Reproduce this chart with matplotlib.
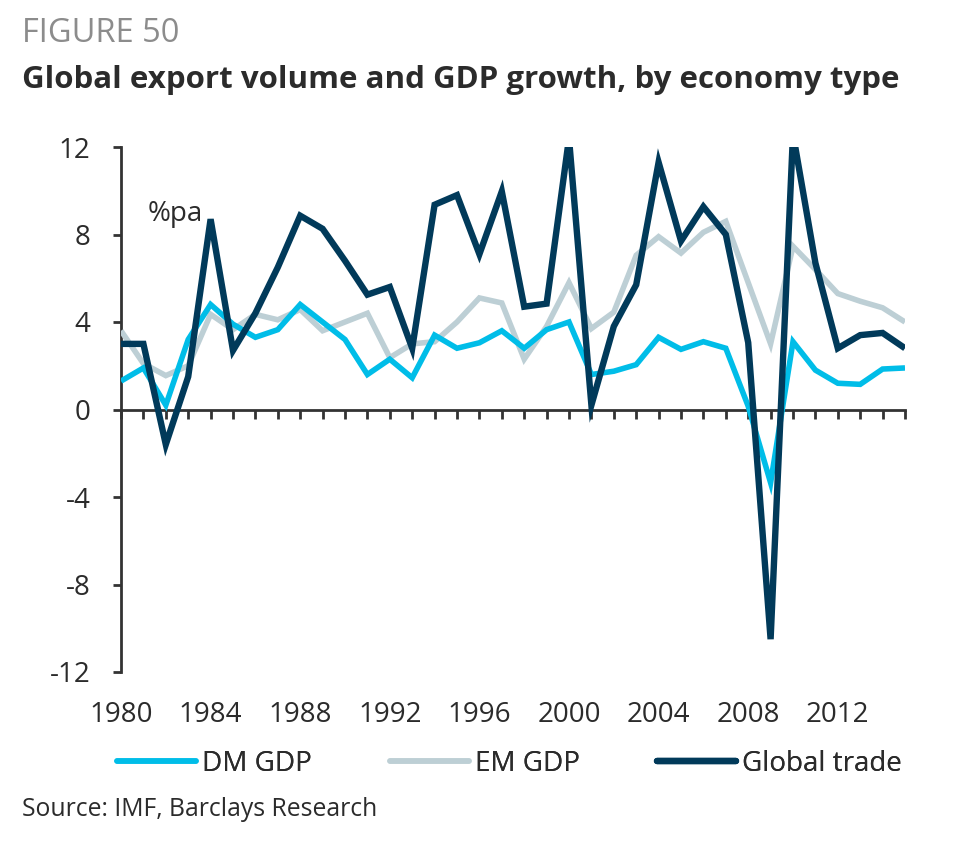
import matplotlib
matplotlib.use("Agg")
import matplotlib.pyplot as plt

plt.rcParams['font.family'] = ['Open Sans', 'DejaVu Sans']

years = list(range(1980, 2016))
dm_gdp = [1.3, 1.9, 0.2, 3.2, 4.8, 3.9, 3.3, 3.65, 4.8, 4.0, 3.2, 1.6,
          2.3, 1.45, 3.4, 2.8, 3.05, 3.6, 2.8, 3.65, 4.0, 1.6, 1.75, 2.05,
          3.3, 2.75, 3.1, 2.8, 0.15, -3.35, 3.1, 1.8, 1.2, 1.15, 1.85, 1.9]
em_gdp = [3.6, 2.1, 1.55, 2.0, 4.35, 3.65, 4.35, 4.1, 4.57, 3.6, 4.0, 4.4,
          2.37, 3.0, 3.1, 4.0, 5.1, 4.87, 2.3, 3.8, 5.8, 3.7, 4.45, 7.05,
          7.9, 7.15, 8.1, 8.6, 5.8, 3.0, 7.46, 6.4, 5.3, 4.95, 4.65, 4.0]
global_trade = [3.0, 3.0, -1.6, 1.5, 8.7, 2.7, 4.4, 6.5, 8.86, 8.26, 6.8, 5.25,
                5.6, 2.8, 9.36, 9.8, 7.1, 9.97, 4.7, 4.84, 12.4, 0.2, 3.8, 5.7,
                11.3, 7.7, 9.27, 8.0, 3.06, -10.5, 12.6, 6.7, 2.8, 3.4, 3.5, 2.8]

y_ticks = [-12, -8, -4, 0, 4, 8, 12]
x_label_ticks = list(range(1980, 2013, 4))

c_dm = '#00BDE8'
c_em = '#BDCFD5'
c_gt = '#013A5A'
c_ax = '#333333'
c_txt = '#2B2B2B'

fig = plt.figure(figsize=(9.6, 8.44), dpi=100)
ax = fig.add_axes([121/960, 1-672/844, (905-121)/960, (672-147)/844])

l_em, = ax.plot(years, em_gdp, color=c_em, lw=4.0, solid_capstyle='butt', solid_joinstyle='miter', zorder=2, label='EM GDP')
l_dm, = ax.plot(years, dm_gdp, color=c_dm, lw=4.0, solid_capstyle='butt', solid_joinstyle='miter', zorder=3, label='DM GDP')
l_gt, = ax.plot(years, global_trade, color=c_gt, lw=4.6, solid_capstyle='butt', solid_joinstyle='miter', zorder=4, label='Global trade')

ax.set_xlim(1980, 2015)
ax.set_ylim(-12, 12)
ax.spines['top'].set_visible(False)
ax.spines['right'].set_visible(False)
ax.spines['bottom'].set_position(('data', 0))
for s in ['left', 'bottom']:
    ax.spines[s].set_color(c_ax)
    ax.spines[s].set_linewidth(2.0)
    ax.spines[s].set_zorder(1)

ax.set_xticks(years)
ax.set_xticklabels([])
ax.tick_params(axis='x', direction='out', length=6.5, width=2.0, color=c_ax)
ax.set_yticks(y_ticks)
ax.set_yticklabels([str(v) for v in y_ticks])
ax.tick_params(axis='y', direction='out', length=6, width=2.0, color=c_ax,
               labelsize=20, labelcolor=c_txt, pad=16)

sec = ax.secondary_xaxis(0.0)
sec.set_xticks(x_label_ticks)
sec.set_xticklabels([str(v) for v in x_label_ticks])
sec.tick_params(axis='x', length=0, pad=21, labelsize=20, labelcolor=c_txt)
sec.spines['bottom'].set_visible(False)

ax.text(1981.2, 8.6, '%pa', fontsize=20, color=c_txt, ha='left', va='baseline')

fig.text(22/960, 1-33/844, 'FIGURE 50', fontsize=23.5, color='#8C8C8C', ha='left', va='center')
fig.text(22/960, 1-80/844, 'Global export volume and GDP growth, by economy type',
         fontsize=22.5, fontweight='bold', color=c_txt, ha='left', va='center')
fig.text(22/960, 1-810/844, 'Source: IMF, Barclays Research', fontsize=17.8, color=c_txt,
         ha='left', va='center')

for h, x0 in [(l_dm, 117), (l_em, 390), (l_gt, 657)]:
    leg = fig.legend(handles=[h], loc='center left', bbox_to_anchor=(x0/960, 1-764/844),
                     frameon=False, fontsize=20, handlelength=2.85, handletextpad=0.2,
                     borderpad=0, borderaxespad=0, labelcolor=c_txt)
    for ln in leg.get_lines():
        ln.set_solid_capstyle('round')
    fig.add_artist(leg)

fig.savefig('out.png', dpi=100)
